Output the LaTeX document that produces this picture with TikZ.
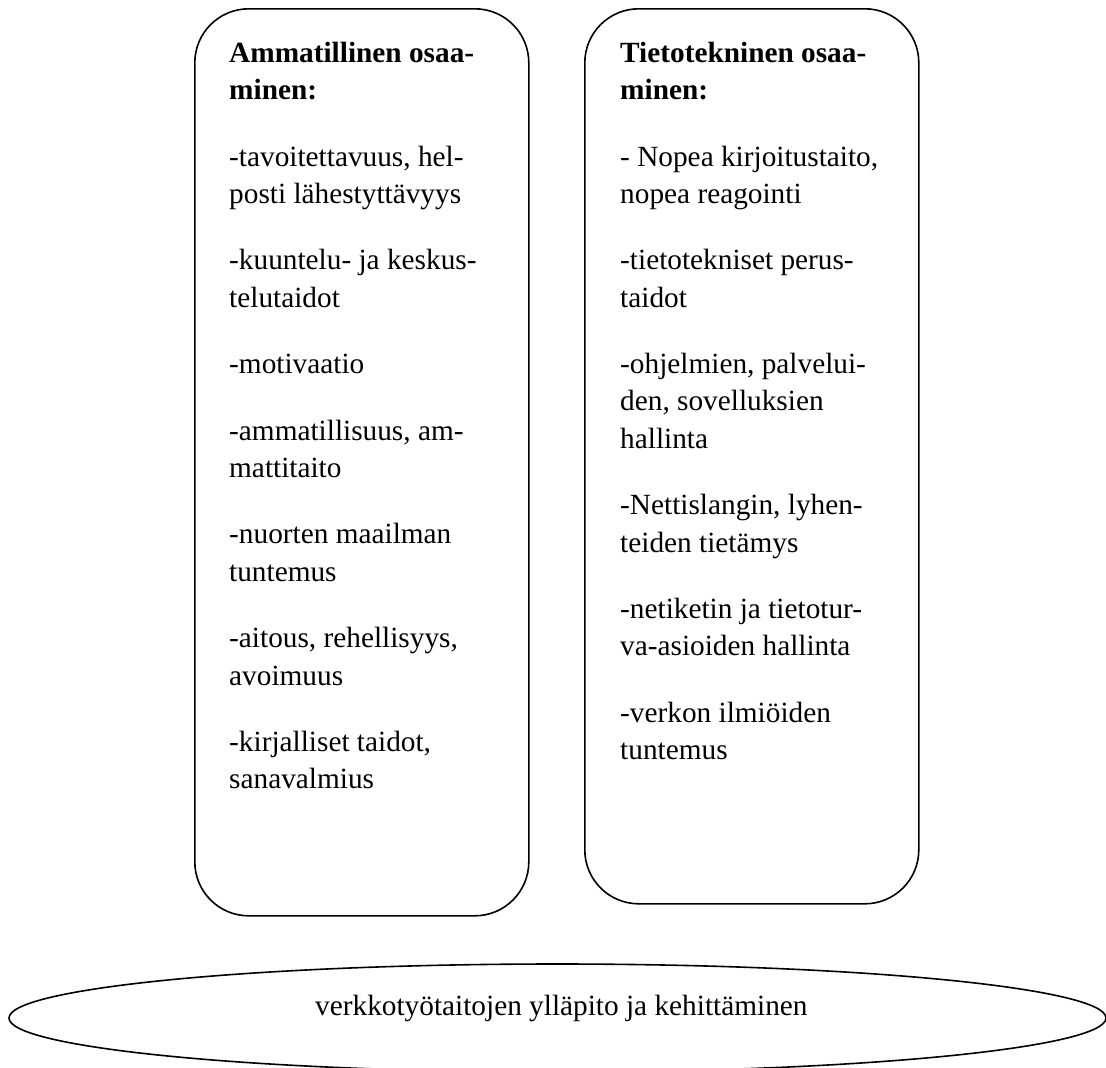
\documentclass[tikz,border=0pt]{standalone}
\usepackage{fontspec}
\setmainfont{Liberation Serif}
\usetikzlibrary{shapes.geometric}
\begin{document}
\begin{tikzpicture}[x=1pt,y=-1pt,
  colbox/.style={draw, line width=1.6pt, rounded corners=54pt, anchor=north west, inner sep=0pt, minimum width=334pt},
  coltext/.style={anchor=north west, inner sep=0pt, align=left, font=\fontsize{29.3}{37.3}\selectfont},
  basebox/.style={draw, line width=1.6pt, ellipse, inner sep=0pt, minimum width=1097pt, minimum height=108pt},
  basetext/.style={anchor=base west, inner sep=0pt, font=\fontsize{29.3}{37.3}\selectfont}]
\useasboundingbox (0,0) rectangle (1106,1068);
\node[colbox, minimum height=907pt] (lbox) at (194,8) {};
\node[colbox, minimum height=895pt] (rbox) at (584,8) {};
\node[coltext] (ltext) at (229,32) {\rule{0pt}{30pt}\textbf{Ammatillinen osaa-}\\
\textbf{minen:}\\[29.2pt]
-tavoitettavuus, hel-\\
posti lähestyttävyys\\[29.2pt]
-kuuntelu- ja keskus-\\
telutaidot\\[29.2pt]
-motivaatio\\[29.2pt]
-ammatillisuus, am-\\
mattitaito\\[29.2pt]
-nuorten maailman\\
tuntemus\\[29.2pt]
-aitous, rehellisyys,\\
avoimuus\\[29.2pt]
-kirjalliset taidot,\\
sanavalmius};
\node[coltext] (rtext) at (620,32) {\rule{0pt}{30pt}\textbf{Tietotekninen osaa-}\\
\textbf{minen:}\\[29.2pt]
- Nopea kirjoitustaito,\\
nopea reagointi\\[29.2pt]
-tietotekniset perus-\\
taidot\\[29.2pt]
-ohjelmien, palvelui-\\
den, sovelluksien\\
hallinta\\[29.2pt]
-Nettislangin, lyhen-\\
teiden tietämys\\[29.2pt]
-netiketin ja tietotur-\\
va-asioiden hallinta\\[29.2pt]
-verkon ilmiöiden\\
tuntemus};
\node[basebox] (base) at (557.5,1018) {};
\node[basetext] (btext) at (315,1015) {verkkotyötaitojen ylläpito ja kehittäminen};
\end{tikzpicture}
\end{document}
